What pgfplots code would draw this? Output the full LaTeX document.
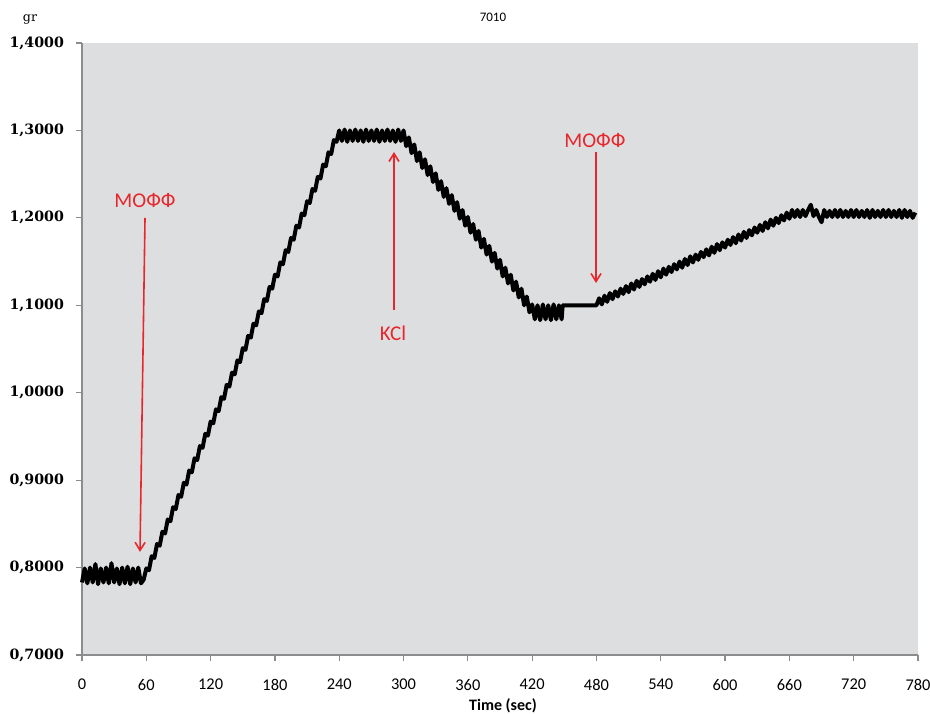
\documentclass[border=0pt]{standalone}
\usepackage{pgfplots}
\pgfplotsset{compat=1.18}
\usepackage{fontspec}
\setmainfont{Carlito}
\newfontfamily\yfont{DejaVu Serif}
\usetikzlibrary{arrows.meta}
\definecolor{bg}{RGB}{221,222,224}
\definecolor{axc}{RGB}{140,140,140}
\definecolor{annot}{RGB}{232,38,43}
\begin{document}
\begin{tikzpicture}
\begin{axis}[
  name=ax,
  scale only axis,
  width=418pt, height=306pt,
  xmin=0, xmax=780, ymin=0.7, ymax=1.4,
  axis x line*=bottom, axis y line*=left,
  axis line style={-, axc, line width=0.6pt},
  axis background/.style={fill=bg},
  xtick={0,60,120,180,240,300,360,420,480,540,600,660,720,780},
  ytick={0.7,0.8,0.9,1.0,1.1,1.2,1.3,1.4},
  tick style={axc, line width=0.6pt},
  tick align=outside,
  major tick length=3pt,
  /pgf/number format/assume math mode=true,
  xticklabel style={font=\fontsize{8.2}{9}\selectfont, yshift=-5.5pt},
  yticklabel style={font=\yfont\bfseries\fontsize{7.1}{9}\selectfont, xshift=-2.5pt},
  yticklabel={\pgfmathprintnumber[fixed,fixed zerofill,precision=4,use comma]{\tick}},
  xlabel={Time (sec)},
  xlabel style={at={(axis description cs:0.5,0)}, anchor=center, yshift=-25.5pt, xshift=1.5pt, font=\bfseries\fontsize{8}{9}\selectfont},
  clip=false,
]
\addplot[black, line width=2pt, line join=round] table[x=x, y=y] {
x y
0 0.783
2.5 0.799
5 0.782
7.5 0.800
10 0.783
12.5 0.804
15 0.781
17.5 0.799
20 0.783
22.5 0.800
25 0.782
27.5 0.805
30 0.783
32.5 0.799
35 0.781
37.5 0.800
40 0.782
42.5 0.801
45 0.781
47.5 0.799
50 0.783
52.5 0.800
55 0.782
57.5 0.786
60 0.799
62.5 0.797
65 0.813
67.5 0.811
70 0.827
72.5 0.825
75 0.841
77.5 0.839
80 0.855
82.5 0.853
85 0.869
87.5 0.867
90 0.883
92.5 0.881
95 0.897
97.5 0.895
100 0.911
102.5 0.909
105 0.925
107.5 0.923
110 0.939
112.5 0.937
115 0.953
117.5 0.951
120 0.967
122.5 0.965
125 0.981
127.5 0.979
130 0.995
132.5 0.993
135 1.009
137.5 1.007
140 1.023
142.5 1.021
145 1.037
147.5 1.035
150 1.051
152.5 1.049
155 1.065
157.5 1.063
160 1.079
162.5 1.077
165 1.093
167.5 1.091
170 1.107
172.5 1.105
175 1.121
177.5 1.119
180 1.135
182.5 1.133
185 1.149
187.5 1.147
190 1.163
192.5 1.161
195 1.177
197.5 1.175
200 1.191
202.5 1.189
205 1.205
207.5 1.203
210 1.219
212.5 1.217
215 1.233
217.5 1.231
220 1.247
222.5 1.245
225 1.261
227.5 1.259
230 1.275
232.5 1.273
235 1.289
237.5 1.287
240 1.300
242.5 1.288
245 1.301
247.5 1.287
250 1.300
252.5 1.288
255 1.301
257.5 1.288
260 1.300
262.5 1.287
265 1.301
267.5 1.288
270 1.300
272.5 1.288
275 1.301
277.5 1.287
280 1.300
282.5 1.288
285 1.301
287.5 1.288
290 1.300
292.5 1.287
295 1.301
297.5 1.288
300 1.300
302.5 1.282
305 1.292
307.5 1.274
310 1.284
312.5 1.265
315 1.275
317.5 1.257
320 1.267
322.5 1.249
325 1.259
327.5 1.241
330 1.251
332.5 1.232
335 1.242
337.5 1.224
340 1.234
342.5 1.216
345 1.226
347.5 1.208
350 1.218
352.5 1.199
355 1.209
357.5 1.191
360 1.201
362.5 1.183
365 1.193
367.5 1.175
370 1.185
372.5 1.166
375 1.176
377.5 1.158
380 1.168
382.5 1.150
385 1.160
387.5 1.142
390 1.152
392.5 1.133
395 1.143
397.5 1.125
400 1.135
402.5 1.117
405 1.127
407.5 1.109
410 1.119
412.5 1.100
415 1.110
417.5 1.092
420 1.101
422.5 1.084
425 1.100
427.5 1.083
430 1.101
432.5 1.084
435 1.100
437.5 1.083
440 1.101
442.5 1.084
445 1.100
447.5 1.084
448.5 1.100
480 1.100
482.5 1.108
485 1.101
487.5 1.111
490 1.104
492.5 1.114
495 1.107
497.5 1.116
500 1.110
502.5 1.119
505 1.113
507.5 1.122
510 1.115
512.5 1.125
515 1.118
517.5 1.128
520 1.121
522.5 1.130
525 1.124
527.5 1.133
530 1.127
532.5 1.136
535 1.129
537.5 1.139
540 1.132
542.5 1.142
545 1.135
547.5 1.144
550 1.138
552.5 1.147
555 1.141
557.5 1.150
560 1.143
562.5 1.153
565 1.146
567.5 1.156
570 1.149
572.5 1.158
575 1.152
577.5 1.161
580 1.155
582.5 1.164
585 1.157
587.5 1.167
590 1.160
592.5 1.170
595 1.163
597.5 1.172
600 1.166
602.5 1.175
605 1.169
607.5 1.178
610 1.171
612.5 1.181
615 1.174
617.5 1.184
620 1.177
622.5 1.186
625 1.180
627.5 1.189
630 1.183
632.5 1.192
635 1.185
637.5 1.195
640 1.188
642.5 1.198
645 1.191
647.5 1.200
650 1.194
652.5 1.203
655 1.197
657.5 1.206
660 1.199
662.5 1.209
665 1.201
667.5 1.209
670 1.201
672.5 1.209
675 1.202
677.5 1.209
680 1.215
682.5 1.202
685 1.209
687.5 1.201
690 1.195
692.5 1.209
695 1.201
697.5 1.208
700 1.201
702.5 1.209
705 1.201
707.5 1.209
710 1.201
712.5 1.208
715 1.201
717.5 1.209
720 1.201
722.5 1.209
725 1.201
727.5 1.208
730 1.201
732.5 1.209
735 1.200
737.5 1.209
740 1.201
742.5 1.208
745 1.201
747.5 1.209
750 1.201
752.5 1.209
755 1.201
757.5 1.208
760 1.201
762.5 1.209
765 1.200
767.5 1.209
770 1.201
772.5 1.208
775 1.200
777.5 1.206
};
% annotations
\draw[annot, line width=0.8pt, -{Straight Barb[length=4pt,width=5pt]}] (axis cs:58.8,1.200) -- (axis cs:54.1,0.818);
\node[annot, font=\fontsize{10.5}{12}\selectfont] at (axis cs:58.8,1.2204) {МОФФ};
\draw[annot, line width=0.8pt, -{Straight Barb[length=4pt,width=5pt]}] (axis cs:291.1,1.0946) -- (axis cs:291.1,1.2753);
\node[annot, font=\fontsize{10.5}{12}\selectfont] at (axis cs:290.2,1.0683) {KCl};
\draw[annot, line width=0.8pt, -{Straight Barb[length=4pt,width=5pt]}] (axis cs:479.6,1.2753) -- (axis cs:479.6,1.1255);
\node[annot, font=\fontsize{10.5}{12}\selectfont] at (axis cs:478.6,1.289) {МОФФ};
% title and unit
\node[font=\fontsize{6.5}{7}\selectfont] at (rel axis cs:0.4916,1.0425) {7010};
\node[font=\yfont\fontsize{6.3}{7}\selectfont] at (rel axis cs:-0.0622,1.038) {gr};
\end{axis}
\pgfresetboundingbox
\path[use as bounding box] ([shift={(-41pt,-29pt)}]ax.south west) rectangle ([shift={(424pt,327.5pt)}]ax.south west);
\end{tikzpicture}
\end{document}
